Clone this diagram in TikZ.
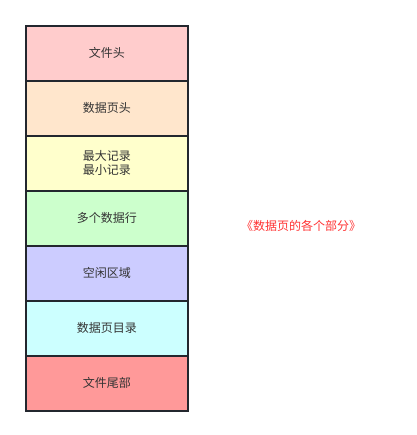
\documentclass[tikz,border=0pt]{standalone}
\usepackage{fontspec}
\newfontfamily\cjk{Noto Sans CJK SC}
\definecolor{c1}{HTML}{FFCCCC}
\definecolor{c2}{HTML}{FFE6CC}
\definecolor{c3}{HTML}{FFFFCC}
\definecolor{c4}{HTML}{CCFFCC}
\definecolor{c5}{HTML}{CCCCFF}
\definecolor{c6}{HTML}{CCFFFF}
\definecolor{c7}{HTML}{FF9999}
\definecolor{edge}{HTML}{23272E}
\definecolor{txt}{HTML}{333333}
\definecolor{red}{HTML}{FF3333}
\begin{document}
\begin{tikzpicture}[x=1pt,y=-1pt,
  part/.style={draw=edge,line width=1.6pt,minimum width=162pt,minimum height=55pt,
    inner sep=0pt,font=\cjk\fontsize{12}{14}\selectfont,text=txt,align=center,anchor=north west}]
\useasboundingbox (0,0) rectangle (416,435);
\node[part,fill=c1] (p1) at (25,25) {文件头};
\node[part,fill=c2] (p2) at (25,80) {数据页头};
\node[part,fill=c3] (p3) at (25,135) {最大记录\\最小记录};
\node[part,fill=c4] (p4) at (25,190) {多个数据行};
\node[part,fill=c5] (p5) at (25,245) {空闲区域};
\node[part,fill=c6] (p6) at (25,300) {数据页目录};
\node[part,fill=c7] (p7) at (25,355) {文件尾部};
\node[font=\cjk\fontsize{12}{14}\selectfont,text=red] (cap) at (301,226) {《数据页的各个部分》};
\end{tikzpicture}
\end{document}
